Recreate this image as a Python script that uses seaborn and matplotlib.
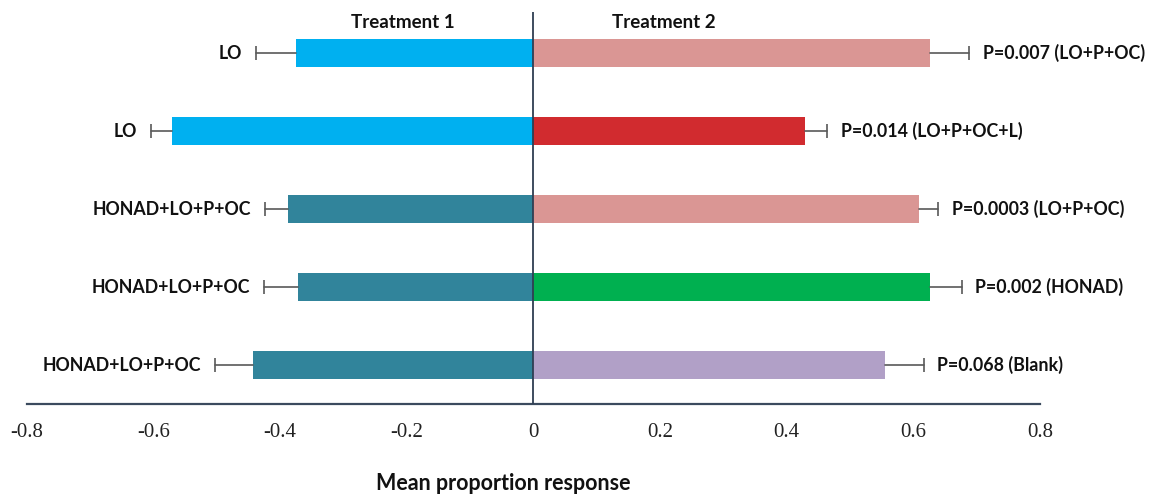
import pandas as pd
import matplotlib
matplotlib.use("Agg")
import matplotlib.pyplot as plt
import seaborn as sns

# Data (top row first)
rows = ["r1", "r2", "r3", "r4", "r5"]
left_labels = ["LO", "LO", "HONAD+LO+P+OC", "HONAD+LO+P+OC", "HONAD+LO+P+OC"]
right_labels = ["P=0.007 (LO+P+OC)", "P=0.014 (LO+P+OC+L)", "P=0.0003 (LO+P+OC)",
                "P=0.002 (HONAD)", "P=0.068 (Blank)"]
treatment1 = [-0.375, -0.571, -0.388, -0.372, -0.443]
treatment1_err = [0.063, 0.033, 0.036, 0.054, 0.060]
treatment2 = [0.627, 0.429, 0.609, 0.627, 0.555]
treatment2_err = [0.061, 0.035, 0.030, 0.049, 0.061]
left_colors = ["#00B0F0", "#00B0F0", "#31849B", "#31849B", "#31849B"]
right_colors = ["#DA9694", "#D12B2F", "#DA9694", "#00B050", "#B1A0C7"]
x_ticks = [-0.8, -0.6, -0.4, -0.2, 0, 0.2, 0.4, 0.6, 0.8]

LABEL_FONT = "Lato"
TICK_FONT = "Liberation Serif"


def draw_side(ax, values, errs, colors, labels, side):
    df = pd.DataFrame({"row": rows, "value": values})
    sns.barplot(data=df, x="value", y="row", hue="row", palette=colors,
                orient="h", width=0.36, legend=False, saturation=1,
                linewidth=0, ax=ax)
    sign = 1 if side == "right" else -1
    for i, (v, e, lab) in enumerate(zip(values, errs, labels)):
        end = v + sign * e
        # one-sided error bar with a cap only at the outer end
        ax.plot([v, end], [i, i], color="#595959", lw=1.2, zorder=3)
        ax.plot([end], [i], marker="|", markersize=10, mew=1.2, color="#595959", zorder=3)
        ax.text(end + sign * 0.022, i, lab, ha="left" if side == "right" else "right",
                va="center", fontsize=12.8, fontweight="bold", family=LABEL_FONT,
                color="#111111")


def make_chart():
    sns.set_style("white")
    fig = plt.figure(figsize=(11.52, 4.96), dpi=100)
    ax = fig.add_axes([0.0234, 0.1855, 0.8794, 0.79])

    draw_side(ax, treatment1, treatment1_err, left_colors, left_labels, "left")
    draw_side(ax, treatment2, treatment2_err, right_colors, right_labels, "right")

    ax.axvline(0, color="#2F3E52", lw=1.3, zorder=4)
    ax.set_xlim(-0.8, 0.8)
    ax.set_ylim(4.5, -0.53)
    ax.set_xticks(x_ticks)
    ax.set_xticklabels([f"{t:g}" for t in x_ticks], family=TICK_FONT, fontsize=15,
                       color="#222222")
    ax.tick_params(axis="x", length=0, pad=14)
    ax.set_yticks([])
    ax.set_ylabel("")
    ax.set_xlabel("")

    for s in ["top", "right", "left"]:
        ax.spines[s].set_visible(False)
    ax.spines["bottom"].set_color("#3B4A5E")
    ax.spines["bottom"].set_linewidth(1.6)

    # column headers
    ax.text(-0.206, -0.4, "Treatment 1", ha="center", va="center", fontsize=13.5,
            fontweight="bold", family=LABEL_FONT, color="#111111")
    ax.text(0.206, -0.4, "Treatment 2", ha="center", va="center", fontsize=13.5,
            fontweight="bold", family=LABEL_FONT, color="#111111")

    # axis title sits well below the tick labels
    fig.text(503 / 1152, 1 - 484 / 496, "Mean proportion response", ha="center",
             va="center", fontsize=15.5, fontweight="bold", family=LABEL_FONT,
             color="#111111")

    fig.savefig("out.png", dpi=100)


if __name__ == "__main__":
    make_chart()
